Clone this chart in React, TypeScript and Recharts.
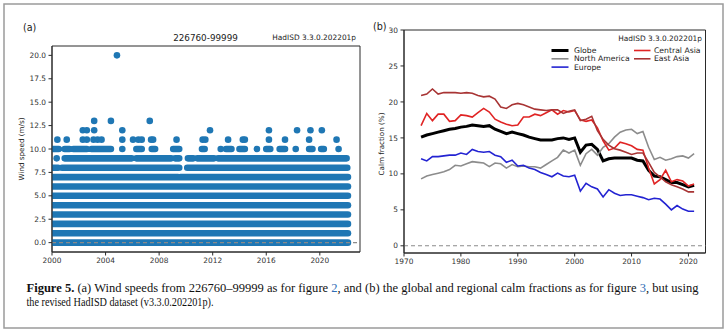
import React from 'react';
import {
  ComposedChart,
  LineChart,
  Line,
  Scatter,
  XAxis,
  YAxis,
  ReferenceLine,
  ReferenceArea,
} from 'recharts';

const FONT = '"DejaVu Sans", sans-serif';
const SERIF = '"Liberation Serif", "Times New Roman", serif';
const AXIS_COLOR = '#2a2a2a';
const TICK_COLOR = '#333333';
const DOT_COLOR = '#1f77b4';

// ---------------- Panel (a): wind speeds at 226760-99999 ----------------
const stationTitle = '226760-99999';
const datasetLabel = 'HadISD 3.3.0.202201p';

// speeds (m/s) that are observed continuously through the record
const continuousSpeeds = [0, 1, 2, 3, 4, 5, 6];
const continuousSpan = [[2000.0, 2022.1]];
// coverage intervals (years) for the less frequent speeds
const speed7Ranges = [[2000.0, 2009.4], [2009.6, 2022.1]];
const speed8Ranges = [[2000.1, 2000.45], [2000.75, 2009.5], [2010.1, 2022.05]];
const speed9Ranges = [
  [2000.95, 2005.95], [2006.3, 2008.9], [2009.2, 2009.5], [2010.15, 2010.55],
  [2010.85, 2012.1], [2012.4, 2022.0],
];
const speed10Ranges = [
  [2000.1, 2000.5], [2000.95, 2001.3], [2001.6, 2002.6], [2002.95, 2004.4],
  [2006.3, 2006.7], [2007.45, 2007.7], [2009.05, 2009.5], [2011.2, 2011.4],
  [2013.0, 2013.4], [2014.0, 2014.4], [2016.0, 2016.3], [2017.0, 2017.4],
  [2019.2, 2019.45], [2020.1, 2020.3],
];
// isolated observations (years)
const speed9Points = [2000.35];
const speed10Points = [2005.25, 2012.6, 2015.3, 2018.2, 2021.4];
const speed11Points = [
  2000.4, 2001.1, 2002.3, 2002.6, 2003.1, 2003.4, 2003.7, 2005.25, 2006.05,
  2006.45, 2006.7, 2007.4, 2007.55, 2009.3, 2011.25, 2011.45, 2013.15, 2014.25,
  2014.4, 2016.2, 2017.4, 2019.2, 2021.25,
];
const speed12Points = [2002.3, 2002.6, 2003.15, 2005.25, 2011.8, 2016.2, 2018.3, 2019.3, 2020.15];
const speed13Points = [2003.15, 2004.4, 2007.3];
const speed20Points = [2004.85];

const xTicksA = [2000, 2004, 2008, 2012, 2016, 2020];
const yTicksA = [0, 2.5, 5, 7.5, 10, 12.5, 15, 17.5, 20];

// ---------------- Panel (b): calm fractions ----------------
const years = [
  1973, 1974, 1975, 1976, 1977, 1978, 1979, 1980, 1981, 1982,
  1983, 1984, 1985, 1986, 1987, 1988, 1989, 1990, 1991, 1992,
  1993, 1994, 1995, 1996, 1997, 1998, 1999, 2000, 2001, 2002,
  2003, 2004, 2005, 2006, 2007, 2008, 2009, 2010, 2011, 2012,
  2013, 2014, 2015, 2016, 2017, 2018, 2019, 2020, 2021,
];
const globe = [
  15.1, 15.4, 15.6, 15.8, 16.0, 16.2, 16.3, 16.5, 16.6, 16.8,
  16.7, 16.6, 16.7, 16.2, 15.9, 15.6, 15.8, 15.6, 15.4, 15.1,
  14.9, 14.7, 14.7, 14.7, 14.9, 15.0, 14.8, 15.0, 13.0, 14.0,
  14.1, 13.4, 11.8, 12.1, 12.2, 12.2, 12.2, 12.2, 11.9, 11.8,
  10.5, 9.7, 9.6, 9.2, 8.8, 8.8, 8.5, 8.2, 8.4,
];
const northAmerica = [
  9.3, 9.7, 9.9, 10.1, 10.3, 10.6, 11.2, 11.1, 11.4, 11.7,
  11.6, 11.5, 11.0, 11.5, 11.4, 10.8, 11.3, 11.0, 11.1, 11.0,
  11.0, 10.8, 11.3, 11.8, 12.3, 13.3, 12.9, 13.3, 11.2, 12.8,
  13.4, 12.6, 13.7, 14.2, 15.1, 15.8, 16.1, 16.2, 15.6, 15.9,
  13.7, 12.0, 12.3, 11.9, 12.1, 12.4, 12.5, 12.2, 12.8,
];
const europe = [
  12.1, 11.8, 12.4, 12.4, 12.5, 12.6, 12.6, 12.9, 12.7, 13.4,
  13.1, 13.0, 13.1, 12.6, 12.4, 11.6, 11.9, 11.1, 11.2, 10.8,
  10.6, 10.2, 9.9, 9.6, 10.1, 9.7, 9.6, 9.8, 7.6, 8.7,
  8.2, 7.9, 6.8, 7.8, 7.3, 7.0, 7.1, 7.1, 6.9, 6.7,
  6.4, 6.6, 6.5, 5.8, 5.0, 5.6, 5.1, 4.8, 4.8,
];
const centralAsia = [
  16.7, 18.4, 17.4, 18.3, 18.3, 17.3, 17.4, 18.2, 18.1, 17.9,
  18.5, 19.1, 18.6, 17.6, 17.2, 16.9, 16.7, 16.8, 17.9, 17.9,
  18.3, 18.1, 18.5, 18.9, 18.3, 18.8, 18.6, 18.8, 17.5, 17.3,
  17.5, 16.4, 14.6, 13.3, 13.6, 14.4, 14.2, 13.9, 13.4, 13.3,
  10.8, 8.6, 9.2, 10.5, 8.9, 9.2, 9.0, 8.3, 8.6,
];
const eastAsia = [
  20.9, 21.1, 21.8, 21.1, 21.3, 21.3, 21.3, 21.2, 21.3, 21.2,
  20.9, 20.7, 20.8, 20.4, 19.3, 19.1, 19.6, 19.8, 19.6, 19.3,
  19.0, 18.9, 18.8, 18.9, 18.9, 18.4, 18.7, 18.9, 17.4, 17.6,
  18.0, 16.0, 14.8, 14.0, 13.5, 13.3, 13.0, 12.7, 12.9, 12.9,
  11.6, 10.2, 9.6, 8.9, 8.5, 8.2, 7.9, 7.5, 7.5,
];
const xTicksB = [1970, 1980, 1990, 2000, 2010, 2020];
const yTicksB = [0, 5, 10, 15, 20, 25, 30];

const regions = [
  { key: 'globe', name: 'Globe', values: globe, color: '#000000', width: 3 },
  { key: 'na', name: 'North America', values: northAmerica, color: '#8c8c8c', width: 1.6 },
  { key: 'eu', name: 'Europe', values: europe, color: '#2323d2', width: 1.6 },
  { key: 'ca', name: 'Central Asia', values: centralAsia, color: '#e02424', width: 1.6 },
  { key: 'ea', name: 'East Asia', values: eastAsia, color: '#a83434', width: 1.6 },
];

const calmData = years.map((year, i) => {
  const row: Record<string, number> = { year };
  regions.forEach((r) => {
    row[r.key] = r.values[i];
  });
  return row;
});

type Pt = { x: number; y: number | null };
const toBand = (speed: number, ranges: number[][]): Pt[] =>
  ranges.flatMap(([a, b]) => [
    { x: a, y: speed },
    { x: b, y: speed },
    { x: b, y: null },
  ]);

const bands = [
  ...continuousSpeeds.map((s) => ({ speed: s, data: toBand(s, continuousSpan) })),
  { speed: 7, data: toBand(7, speed7Ranges) },
  { speed: 8, data: toBand(8, speed8Ranges) },
  { speed: 9, data: toBand(9, speed9Ranges) },
  { speed: 10, data: toBand(10, speed10Ranges) },
];

const isolated = [
  ...speed9Points.map((x) => ({ x, y: 9 })),
  ...speed10Points.map((x) => ({ x, y: 10 })),
  ...speed11Points.map((x) => ({ x, y: 11 })),
  ...speed12Points.map((x) => ({ x, y: 12 })),
  ...speed13Points.map((x) => ({ x, y: 13 })),
  ...speed20Points.map((x) => ({ x, y: 20 })),
];

const tickStyle = { fontSize: 7.4, fill: TICK_COLOR, fontFamily: FONT };

const Dot = (p: any) => <circle cx={p.cx} cy={p.cy} r={3.3} fill={DOT_COLOR} />;

function PanelA() {
  return (
    <ComposedChart width={370} height={275} margin={{ top: 46, right: 10, bottom: 0, left: 12 }}>
      <XAxis
        dataKey="x"
        type="number"
        domain={[2000, 2023]}
        ticks={xTicksA}
        interval={0}
        allowDataOverflow
        height={23}
        tickSize={3.5}
        tickMargin={2.5}
        stroke={AXIS_COLOR}
        tick={tickStyle}
      />
      <YAxis
        dataKey="y"
        type="number"
        domain={[-1, 21]}
        ticks={yTicksA}
        interval={0}
        allowDataOverflow
        width={40}
        tickSize={3.5}
        tickMargin={2.5}
        stroke={AXIS_COLOR}
        tick={tickStyle}
        tickFormatter={(v: number) => v.toFixed(1)}
      />
      {bands.map((b) => (
        <Line
          key={'band' + b.speed}
          data={b.data}
          dataKey="y"
          stroke={DOT_COLOR}
          strokeWidth={6.6}
          strokeLinecap="round"
          dot={false}
          activeDot={false}
          isAnimationActive={false}
        />
      ))}
      <Scatter data={isolated} fill={DOT_COLOR} shape={Dot} isAnimationActive={false} />
      <ReferenceLine y={0} stroke="#8a8a8a" strokeWidth={1.1} strokeDasharray="4 3" />
      <ReferenceArea x1={2000} x2={2023} y1={-1} y2={21} fill="none" stroke={AXIS_COLOR} strokeWidth={1} />
    </ComposedChart>
  );
}

function PanelB() {
  return (
    <LineChart width={366} height={276} data={calmData} margin={{ top: 30, right: 20.5, bottom: 0, left: 10 }}>
      <XAxis
        dataKey="year"
        type="number"
        domain={[1970, 2023]}
        ticks={xTicksB}
        interval={0}
        allowDataOverflow
        height={23}
        tickSize={3.5}
        tickMargin={2.5}
        stroke={AXIS_COLOR}
        tick={tickStyle}
      />
      <YAxis
        type="number"
        domain={[-1, 30]}
        ticks={yTicksB}
        interval={0}
        allowDataOverflow
        width={34}
        tickSize={3.5}
        tickMargin={2.5}
        stroke={AXIS_COLOR}
        tick={tickStyle}
      />
      <ReferenceLine y={0} stroke="#8a8a8a" strokeWidth={1.1} strokeDasharray="4 3" />
      {regions.map((r) => (
        <Line
          key={r.key}
          dataKey={r.key}
          stroke={r.color}
          strokeWidth={r.width}
          dot={false}
          activeDot={false}
          isAnimationActive={false}
        />
      ))}
      <ReferenceArea x1={1970} x2={2023} y1={-1} y2={30} fill="none" stroke={AXIS_COLOR} strokeWidth={1} />
    </LineChart>
  );
}

const legendCols = [
  { x1: 551.5, x2: 568.5, tx: 574, items: [regions[0], regions[1], regions[2]] },
  { x1: 634, x2: 650.5, tx: 654, items: [regions[3], regions[4]] },
];
const legendRowsY = [50.5, 58.8, 67.1];

function Overlay() {
  const link = '#2f6db5';
  return (
    <svg
      width={726}
      height={332}
      style={{ position: 'absolute', left: 0, top: 0, pointerEvents: 'none' }}
    >
      <rect x={4} y={4} width={719} height={324} fill="none" stroke="#9a9a9a" strokeWidth={1.5} />
      {/* panel (a) texts */}
      <text x={23} y={31} fontFamily={FONT} fontSize={9.6} fill="#222">(a)</text>
      <text x={205.5} y={41} fontFamily={FONT} fontSize={8.8} fill="#222" textAnchor="middle">
        {stationTitle}
      </text>
      <text x={356} y={40} fontFamily={FONT} fontSize={7.4} fill="#222" textAnchor="end">
        {datasetLabel}
      </text>
      <text
        x={21.5}
        y={149}
        fontFamily={FONT}
        fontSize={7.2}
        fill="#222"
        textAnchor="middle"
        dominantBaseline="central"
        transform="rotate(-90 21.5 149)"
      >
        Wind speed (m/s)
      </text>
      {/* panel (b) texts */}
      <text x={373} y={29.5} fontFamily={FONT} fontSize={9.6} fill="#222">(b)</text>
      <text x={702} y={41} fontFamily={FONT} fontSize={7.4} fill="#222" textAnchor="end">
        {datasetLabel}
      </text>
      <text
        x={381.5}
        y={144}
        fontFamily={FONT}
        fontSize={7.2}
        fill="#222"
        textAnchor="middle"
        dominantBaseline="central"
        transform="rotate(-90 381.5 144)"
      >
        Calm fraction (%)
      </text>
      {legendCols.map((col, ci) =>
        col.items.map((r, ri) => (
          <g key={ci + '-' + ri}>
            <line
              x1={col.x1}
              x2={col.x2}
              y1={legendRowsY[ri]}
              y2={legendRowsY[ri]}
              stroke={r.color}
              strokeWidth={r.width}
            />
            <text
              x={col.tx}
              y={legendRowsY[ri]}
              fontFamily={FONT}
              fontSize={7.7}
              fill="#222"
              dominantBaseline="central"
            >
              {r.name}
            </text>
          </g>
        ))
      )}
      {/* caption */}
      <text
        x={26.5}
        y={292}
        fontFamily={SERIF}
        fontSize={12}
        fill="#111"
        textLength={672}
        lengthAdjust="spacingAndGlyphs"
      >
        <tspan fontWeight="bold">Figure 5.</tspan>
        <tspan>{' (a) Wind speeds from 226760\u201399999 as for figure '}</tspan>
        <tspan fill={link}>2</tspan>
        <tspan>{', and (b) the global and regional calm fractions as for figure '}</tspan>
        <tspan fill={link}>3</tspan>
        <tspan>{', but using'}</tspan>
      </text>
      <text
        x={26.5}
        y={306}
        fontFamily={SERIF}
        fontSize={12}
        fill="#111"
        textLength={187}
        lengthAdjust="spacingAndGlyphs"
      >
        the revised HadISD dataset (v3.3.0.202201p).
      </text>
    </svg>
  );
}

export default function App() {
  return (
    <div
      style={{
        position: 'absolute',
        left: 0,
        top: 0,
        width: 726,
        height: 332,
        background: '#ffffff',
        overflow: 'hidden',
      }}
    >
      <div style={{ position: 'absolute', left: 0, top: 0 }}>
        <PanelA />
      </div>
      <div style={{ position: 'absolute', left: 360, top: 0 }}>
        <PanelB />
      </div>
      <Overlay />
    </div>
  );
}
